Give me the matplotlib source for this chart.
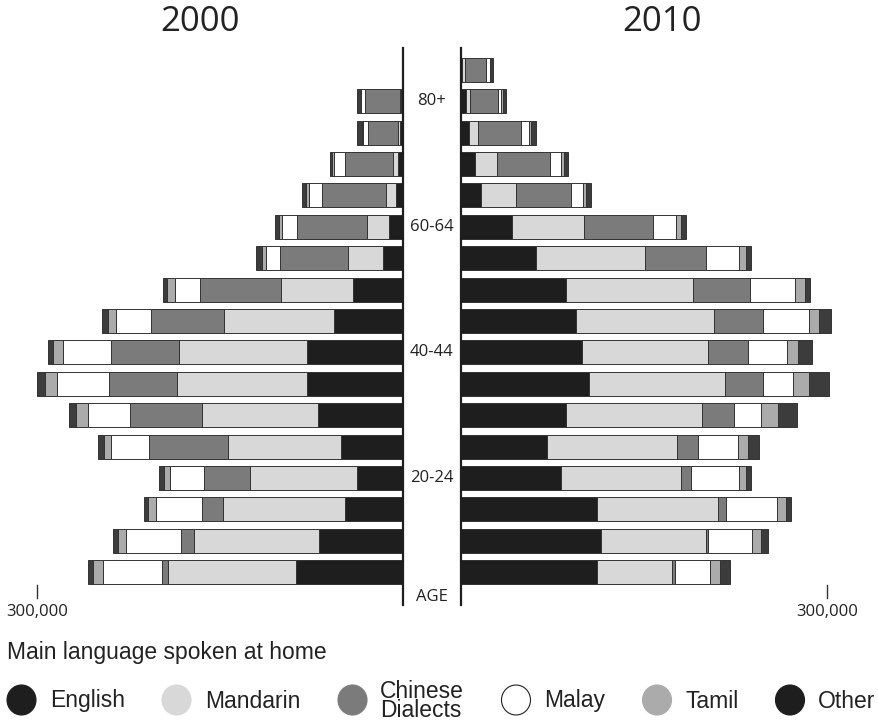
import matplotlib
matplotlib.use("Agg")
import matplotlib.pyplot as plt
import matplotlib.transforms as mtransforms
from matplotlib.patches import Ellipse
import numpy as np

# age bands, youngest at the bottom (row 0)
ages = ["5-9", "10-14", "15-19", "20-24", "25-29", "30-34", "35-39", "40-44",
        "45-49", "50-54", "55-59", "60-64", "65-69", "70-74", "75-79", "80+", "85+"]
shown_ages = ["20-24", "40-44", "60-64", "80+"]

languages = ["English", "Mandarin", "Chinese\nDialects", "Malay", "Tamil", "Other"]
bar_colors = ["#1e1e1e", "#d8d8d8", "#7b7b7b", "#ffffff", "#ababab", "#3c3c3c"]
legend_colors = ["#1e1e1e", "#d8d8d8", "#7b7b7b", "#ffffff", "#ababab", "#1e1e1e"]

# residents in thousands
english_2000 = [87.5, 68.6, 47.3, 37.5, 50.8, 69.9, 78.7, 78.7, 56.3, 40.7, 16.6, 11.5, 6.0, 3.9, 2.5, 1.6, 0]
mandarin_2000 = [104.9, 103.0, 100.0, 87.7, 92.9, 94.5, 106.8, 104.9, 90.7, 59.6, 28.7, 18.3, 8.2, 3.9, 2.0, 1.2, 0]
dialects_2000 = [5.2, 10.7, 17.2, 38.0, 64.2, 59.0, 55.2, 55.7, 59.3, 66.1, 55.5, 57.4, 52.5, 39.9, 23.8, 28.7, 0]
malay_2000 = [48.1, 44.5, 38.3, 27.6, 31.1, 34.4, 43.2, 39.1, 29.3, 20.7, 11.7, 11.7, 10.1, 8.8, 4.7, 2.7, 0]
tamil_2000 = [8.8, 6.6, 6.6, 4.7, 6.3, 10.1, 9.8, 8.8, 6.6, 6.6, 3.0, 2.5, 2.7, 1.4, 0.8, 0.4, 0]
other_2000 = [4.1, 4.3, 2.7, 4.1, 4.3, 5.7, 6.3, 3.5, 4.3, 2.7, 4.7, 3.3, 3.0, 2.2, 3.5, 3.0, 0]

english_2010 = [111.2, 114.8, 111.2, 82.0, 70.2, 85.8, 104.7, 99.4, 94.3, 85.8, 61.2, 42.1, 16.4, 11.2, 6.3, 4.1, 1.2]
mandarin_2010 = [62.0, 86.1, 99.8, 98.1, 106.6, 111.5, 111.7, 103.3, 113.4, 104.7, 89.6, 58.8, 28.9, 18.6, 8.0, 3.5, 2.0]
dialects_2010 = [2.2, 1.9, 6.0, 8.8, 17.2, 26.2, 31.4, 32.8, 40.2, 46.7, 50.2, 56.8, 45.1, 43.4, 34.7, 22.4, 17.5]
malay_2010 = [28.9, 36.1, 42.4, 39.3, 32.8, 22.1, 24.0, 31.4, 37.5, 36.3, 27.0, 18.9, 9.8, 8.4, 7.1, 2.7, 3.0]
tamil_2010 = [8.4, 6.6, 7.1, 5.5, 8.8, 13.9, 13.4, 9.6, 8.4, 8.4, 5.5, 3.5, 1.9, 3.0, 1.6, 1.9, 0.4]
other_2010 = [7.4, 6.0, 3.9, 3.9, 8.8, 15.8, 16.4, 11.2, 9.3, 3.9, 3.9, 4.1, 4.1, 2.7, 3.9, 2.5, 2.2]

data_2000 = [english_2000, mandarin_2000, dialects_2000, malay_2000, tamil_2000, other_2000]
data_2010 = [english_2010, mandarin_2010, dialects_2010, malay_2010, tamil_2010, other_2010]

LABEL_FONT = ["Open Sans", "DejaVu Sans"]
LEGEND_FONT = ["Liberation Sans", "DejaVu Sans"]
TEXT_COLOR = "#222222"


def draw_pyramid(ax, series, year, title_x):
    y = np.arange(len(ages))
    left = np.zeros(len(ages))
    for vals, col in zip(series, bar_colors):
        vals = np.array(vals)
        mask = vals > 0
        ax.barh(y[mask], vals[mask], left=left[mask], height=0.765, color=col,
                edgecolor="#333333", linewidth=0.7)
        left += vals
    ax.set_ylim(-1.05, 16.70)
    ax.set_xticks([])
    ax.set_yticks([])
    for s in ax.spines.values():
        s.set_visible(False)
    # scale mark
    ax.plot([300, 300], [-0.41, -0.83], color="#333333", lw=1.0, clip_on=False)
    ax.text(300, -1.28, "300,000", ha="center", va="center", fontsize=12,
            family=LABEL_FONT, color=TEXT_COLOR, clip_on=False)
    ax.figure.text(title_x / 879, 1 - 22 / 721, year, ha="center", va="center",
                   fontsize=25, family=LABEL_FONT, color=TEXT_COLOR)


fig = plt.figure(figsize=(8.79, 7.21), dpi=100)
bottom = (721 - 605) / 721
height = (605 - 48) / 721
ax_l = fig.add_axes([0, bottom, 403 / 879, height])
ax_r = fig.add_axes([461 / 879, bottom, 418 / 879, height])

draw_pyramid(ax_l, data_2000, "2000", 200)
draw_pyramid(ax_r, data_2010, "2010", 662)
ax_l.set_xlim(403 / 1.22, 0)
ax_r.set_xlim(0, 418 / 1.22)
ax_l.spines["right"].set_visible(True)
ax_r.spines["left"].set_visible(True)
for sp in (ax_l.spines["right"], ax_r.spines["left"]):
    sp.set_linewidth(1.6)
    sp.set_color("#1e1e1e")

# age labels between the two pyramids
trans = mtransforms.blended_transform_factory(fig.transFigure, ax_r.transData)
for i, a in enumerate(ages):
    if a in shown_ages:
        fig.text(432 / 879, i, a, transform=trans, ha="center", va="center",
                 fontsize=12, family=LABEL_FONT, color=TEXT_COLOR)
fig.text(432 / 879, -0.8, "AGE", transform=trans, ha="center", va="center",
         fontsize=12, family=LABEL_FONT, color=TEXT_COLOR)

# legend strip at the bottom, in pixel units
leg = fig.add_axes([0, 0, 1, 91 / 721])
leg.set_xlim(0, 879)
leg.set_ylim(721, 630)
leg.axis("off")
leg.text(7, 653, "Main language spoken at home", ha="left", va="center",
         fontsize=16.5, family=LEGEND_FONT, color=TEXT_COLOR)
dot_x = [21.5, 176.5, 352.5, 516, 657, 790]
text_x = [50, 205, 380, 544, 686, 818]
for lang, col, dx, tx in zip(languages, legend_colors, dot_x, text_x):
    edge = "#222222" if col == "#ffffff" else col
    leg.add_patch(Ellipse((dx, 700), 29, 30, facecolor=col, edgecolor=edge,
                          linewidth=0.8))
    leg.text(tx, 701, lang, ha="left", va="center", fontsize=16.5,
             family=LEGEND_FONT, color=TEXT_COLOR, linespacing=0.8)

fig.savefig("out.png", dpi=100)
